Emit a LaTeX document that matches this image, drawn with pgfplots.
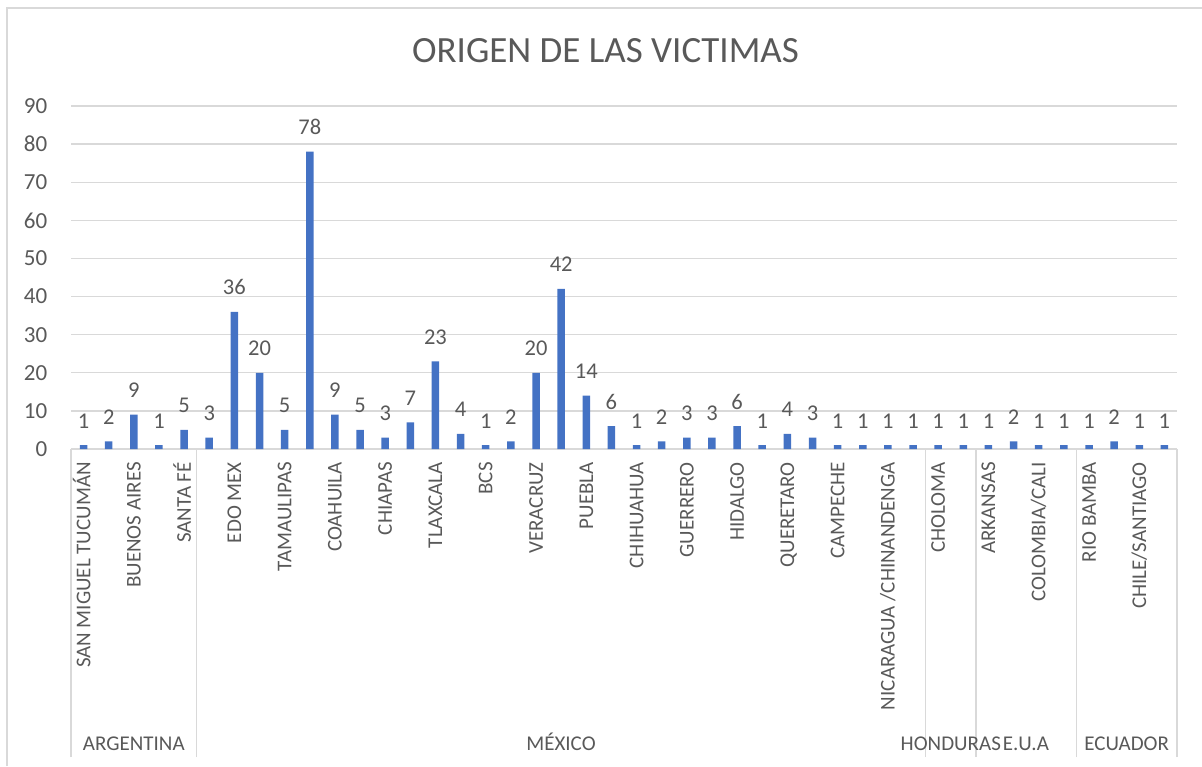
\documentclass[border=0pt]{standalone}
\usepackage{fontspec}
\setmainfont{Carlito}
\usepackage{pgfplots}
\pgfplotsset{compat=1.18}
\definecolor{barblue}{HTML}{4472C4}
\definecolor{txt}{HTML}{595959}
\definecolor{gridc}{HTML}{D9D9D9}
\pgfplotstableread{
idx val
0 1
1 2
2 9
3 1
4 5
5 3
6 36
7 20
8 5
9 78
10 9
11 5
12 3
13 7
14 23
15 4
16 1
17 2
18 20
19 42
20 14
21 6
22 1
23 2
24 3
25 3
26 6
27 1
28 4
29 3
30 1
31 1
32 1
33 1
34 1
35 1
36 1
37 2
38 1
39 1
40 1
41 2
42 1
43 1
}\datatable
\begin{document}
\begin{tikzpicture}[x=1pt,y=1pt]
\useasboundingbox (0,0) rectangle (1202,766);
\draw[gridc, line width=1.3pt] (7,0) -- (7,758) -- (1202,758);
\node[txt, font=\fontsize{37}{42}\selectfont, anchor=base, inner sep=0pt] at (605.5,703) {ORIGEN DE LAS VICTIMAS};
\begin{axis}[
  at={(71pt,317pt)}, anchor=south west,
  scale only axis, width=1106pt, height=343pt,
  xmin=-0.5, xmax=43.5, ymin=0, ymax=90,
  clip=false,
  axis x line*=bottom, axis y line*=left,
  x axis line style={gridc, line width=1.3pt},
  y axis line style={draw=none},
  ytick={0,10,...,90},
  ymajorgrids, grid style={gridc, line width=1.3pt},
  major tick length=0pt,
  /pgf/number format/assume math mode=true,
  yticklabel={\makebox[0pt][r]{\pgfmathprintnumber{\tick}\hspace{23pt}}},
  yticklabel style={font=\fontsize{23}{26}\selectfont, text=txt, anchor=east, inner sep=0pt},
  xtick={0,2,...,42},
  xticklabels={SAN MIGUEL TUCUMÁN, BUENOS AIRES, SANTA FÉ, EDO MEX, TAMAULIPAS, COAHUILA, CHIAPAS, TLAXCALA, BCS, VERACRUZ, PUEBLA, CHIHUAHUA, GUERRERO, HIDALGO, QUERETARO, CAMPECHE, NICARAGUA /CHINANDENGA, CHOLOMA, ARKANSAS, COLOMBIA/CALI, RIO BAMBA, CHILE/SANTIAGO},
  xticklabel style={font=\fontsize{21}{24}\selectfont, text=txt, rotate=90, anchor=east, inner ysep=0pt, inner xsep=13pt, text height=13.5pt, text depth=0pt},
  extra x ticks={-0.5,4.5,33.5,35.5,39.5,43.5},
  extra x tick labels={},
  extra x tick style={grid=none, tick align=outside, major tick length=308pt, tick style={draw=gridc, line width=1.3pt}},
  ybar, bar width=7.5pt,
  nodes near coords,
  nodes near coords style={font=\fontsize{22.5}{26}\selectfont, text=txt, anchor=base, inner sep=0pt, yshift=17pt},
]
\addplot[fill=barblue, draw=none] table[x=idx, y=val] {\datatable};
\end{axis}
\begin{scope}[every node/.style={txt, font=\fontsize{21}{24}\selectfont, anchor=base, inner sep=0pt}]
\node at (133.8,16) {ARGENTINA};
\node at (561,16) {MÉXICO};
\node at (950.8,16) {HONDURAS};
\node at (1026,16) {E.U.A};
\node at (1126.7,16) {ECUADOR};
\end{scope}
\end{tikzpicture}
\end{document}
